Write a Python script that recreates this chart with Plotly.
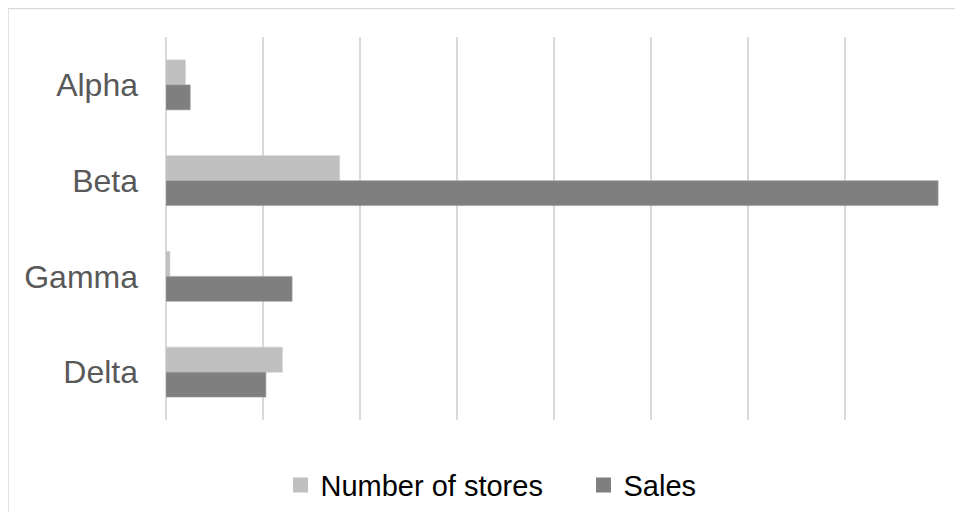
import plotly.graph_objects as go

categories = ["Alpha", "Beta", "Gamma", "Delta"]
stores = [0.2, 1.79, 0.04, 1.2]
sales = [0.25, 7.96, 1.3, 1.03]
series_names = ["Number of stores", "Sales"]
colors = ["#BFBFBF", "#7F7F7F"]

fig = go.Figure()
fig.add_trace(go.Bar(y=categories, x=stores, orientation="h", name=series_names[0], showlegend=False,
                     marker=dict(color=colors[0], line=dict(width=0.6, color="#D0D0D0"))))
fig.add_trace(go.Bar(y=categories, x=sales, orientation="h", name=series_names[1], showlegend=False,
                     marker=dict(color=colors[1], line=dict(width=0.6, color="#A0A0A0"))))
for name, c in zip(series_names, colors):
    fig.add_trace(go.Scatter(x=[None], y=[None], mode="markers", name=name,
                             marker=dict(symbol="square", size=15, color=c)))

PL, PT = 158, 29  # page offset of 8px body margin accounted for
fig.update_layout(
    width=963, height=512,
    margin=dict(l=PL, r=29, t=PT, b=100, autoexpand=False),
    paper_bgcolor="white", plot_bgcolor="white",
    barmode="group", bargap=0.478, bargroupgap=0,
    font=dict(family="Liberation Sans, Arial, sans-serif", size=32, color="#595959"),
    showlegend=True,
    legend=dict(orientation="h", x=0.538, xanchor="center", y=-0.17, yanchor="middle",
                font=dict(size=29, color="#000000"), entrywidth=258, entrywidthmode="pixels",
                bgcolor="rgba(0,0,0,0)", itemsizing="trace"),
    xaxis=dict(range=[0, 8], dtick=1, showgrid=True, gridcolor="#D9D9D9", gridwidth=1.5,
               zeroline=True, zerolinecolor="#D9D9D9", zerolinewidth=1.5,
               showticklabels=False, showline=False, fixedrange=True),
    yaxis=dict(autorange="reversed", showgrid=False, showline=False, ticks="",
               ticklabelstandoff=27, tickfont=dict(size=32, color="#595959")),
    shapes=[dict(type="rect", xref="paper", yref="paper",
                 x0=(0 - PL) / 776, x1=1.2, y0=-0.4, y1=1 + (PT - 0.5) / 383,
                 line=dict(color="#D9D9D9", width=1.5), layer="below")],
)

fig.write_html("out.html")
